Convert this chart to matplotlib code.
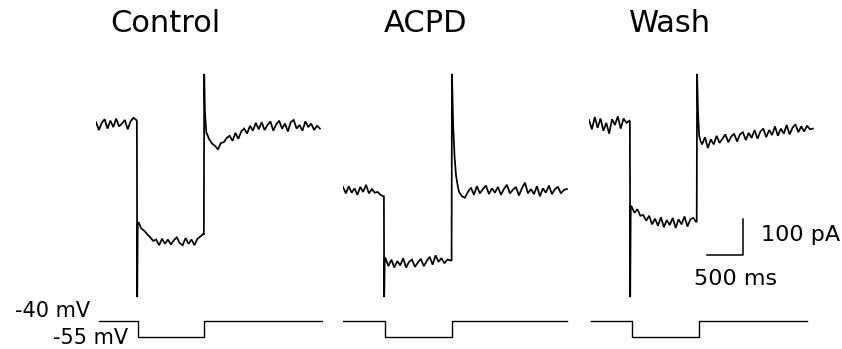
import numpy as np
import matplotlib
matplotlib.use("Agg")
import matplotlib.pyplot as plt

plt.rcParams['font.family'] = ['DejaVu Sans']

# ---- data (ms, pA, mV) ----
conditions = ["Control", "ACPD", "Wash"]

# membrane current segments, sampled ~40 ms apart
ctrl_pre = [8, -14, 6, 16, -10, 12, -6, 18, -4, 4, 14, -12, 10, 20, 14]
ctrl_step = [-270, -288, -294, -304, -312, -322, -318, -334, -316, -330, -318, -332,
             -320, -312, -328, -334, -314, -330, -318, -334, -316, -310, -302]
ctrl_post = [-20, -40, -52, -58, -68, -50, -48, -36, -30, -44, -22, -38, -18, -10,
             -24, -2, -16, 6, -12, 8, -14, 0, 10, -16, 2, 12, -10, 4, -18, 8, 14, -10,
             0, -16, 10, -6, 4, -14, -2, -10]
ctrl_on_t, ctrl_on_i = [568, 572, 580], [10, -478, -275]
ctrl_off_t, ctrl_off_i = [1498, 1503, 1512], [-305, 142, 40]

acpd_pre = [-172, -190, -170, -188, -176, -194, -172, -186, -166, -190, -178, -188,
            -186, -194, -198]
acpd_step = [-370, -392, -374, -396, -378, -390, -370, -396, -380, -374, -394, -382,
             -372, -392, -378, -366, -388, -362, -380, -370, -384, -374, -376]
acpd_post = [-185, -198, -202, -186, -174, -194, -170, -190, -178, -168, -192, -176,
             -188, -172, -194, -178, -166, -190, -180, -172, -196, -176, -160, -190,
             -178, -192, -170, -198, -176, -188, -168, -192, -178, -172, -190, -180,
             -178]
acpd_on_t, acpd_on_i = [568, 572, 580], [-198, -478, -370]
acpd_off_t, acpd_off_i = [1508, 1513, 1530, 1550, 1570, 1590], [-376, 142, 0, -90, -140, -165]

wash_pre = [14, -12, 22, -8, 18, -16, 6, -24, 16, 0, 24, -10, 18, 6, 12]
wash_step = [-226, -244, -234, -252, -250, -266, -252, -276, -260, -280, -256, -284,
             -264, -278, -258, -286, -262, -276, -254, -282, -262, -258, -270]
wash_post = [-54, -34, -64, -40, -54, -30, -50, -38, -26, -48, -32, -24, -46, -26,
             -20, -42, -22, -36, -14, -38, -18, -10, -34, -14, -28, -4, -30, -10,
             -24, 0, -26, -8, 2, -20, -4, -18, -2, -12, -10]
wash_on_t, wash_on_i = [568, 572, 580], [10, -478, -226]
wash_off_t, wash_off_i = [1496, 1501, 1515, 1530, 1550], [-268, 142, 30, -30, -45]

# voltage protocol: start, step on, step off, end (ms)
v_hold, v_step = -40, -55
v_times = [[42, 583, 1500, 3140], [0, 583, 1514, 3114], [28, 597, 1528, 3028]]

scale_t, scale_i = 500, 100  # scale bar


def build(pre, on_t, on_i, step, off_t, off_i, post):
    t = np.concatenate([np.linspace(0, 560, len(pre)), on_t,
                        np.linspace(590, 1490, len(step)), off_t,
                        np.linspace(off_t[-1] + 20, 3110, len(post))])
    i = np.concatenate([pre, on_i, step, off_i, post])
    return t, i


traces = [build(ctrl_pre, ctrl_on_t, ctrl_on_i, ctrl_step, ctrl_off_t, ctrl_off_i, ctrl_post),
          build(acpd_pre, acpd_on_t, acpd_on_i, acpd_step, acpd_off_t, acpd_off_i, acpd_post),
          build(wash_pre, wash_on_t, wash_on_i, wash_step, wash_off_t, wash_off_i, wash_post)]

# ---- layout (pixels of the 842x349 figure) ----
W, H = 842, 349
fig = plt.figure(figsize=(W / 100, H / 100), dpi=100)

ms_px = 500 / 36.0
x_left = [96, 343, 589]
title_x = [165.5, 426, 670.5]
cur_top, cur_bot = 67.4, 305.0
v_top, v_bot = 315.7, 342.3
ax_w = 3150 / ms_px

for k, name in enumerate(conditions):
    axc = fig.add_axes([x_left[k] / W, 1 - cur_bot / H, ax_w / W, (cur_bot - cur_top) / H])
    t, i = traces[k]
    axc.plot(t, i, color='black', lw=1.25, solid_joinstyle='miter')
    axc.set_xlim(0, 3150)
    axc.set_ylim(-500, 160)
    axc.axis('off')

    axv = fig.add_axes([x_left[k] / W, 1 - v_bot / H, ax_w / W, (v_bot - v_top) / H])
    t0, t1, t2, t3 = v_times[k]
    axv.plot([t0, t1, t1, t2, t2, t3], [v_hold, v_hold, v_step, v_step, v_hold, v_hold],
             color='black', lw=1.0)
    axv.set_xlim(0, 3150)
    axv.set_ylim(-60, -35)
    axv.axis('off')

    fig.text(title_x[k] / W, 1 - 23 / H, name, ha='center', va='center', fontsize=22)

    if k == 2:
        # scale bar
        bx, by = 2139, -361
        axc.plot([bx - scale_t, bx, bx], [by, by, by + scale_i], color='black', lw=1.1)
        axc.text(bx + 250, by + scale_i * 0.55, "%d pA" % scale_i, ha='left', va='center',
                 fontsize=16)
        axc.text(bx - 100, by - 67, "%d ms" % scale_t, ha='center', va='center', fontsize=16)

fig.text(90 / W, 1 - 311 / H, "%d mV" % v_hold, ha='right', va='center', fontsize=15)
fig.text(128 / W, 1 - 338 / H, "%d mV" % v_step, ha='right', va='center', fontsize=15)

fig.savefig("out.png", dpi=100)
